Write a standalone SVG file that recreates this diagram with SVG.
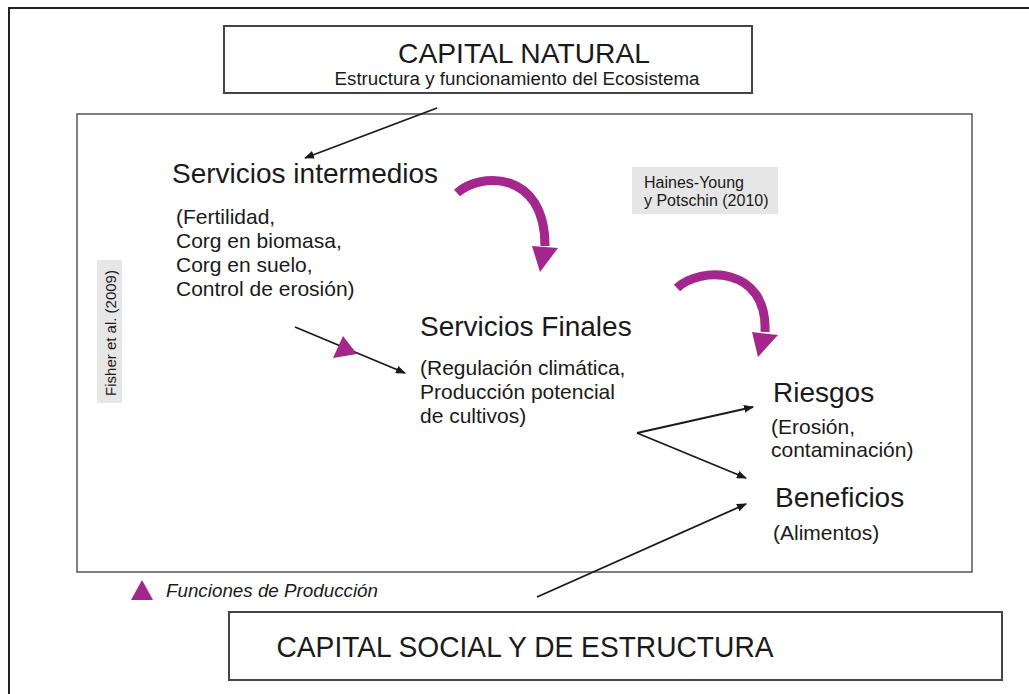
<svg xmlns="http://www.w3.org/2000/svg" width="1029" height="694" viewBox="0 0 1029 694">
<style>
.t{font-family:"Liberation Sans",Arial,sans-serif;fill:#1a1a1a}
.frame{fill:none;stroke:#555;stroke-width:1.5}
.box{fill:#fff;stroke:#444;stroke-width:2}
.ln{stroke:#1a1a1a;stroke-width:1.8;fill:none;marker-end:url(#ah)}
.mg{fill:#a3278c}
.mgs{stroke:#a3278c;stroke-width:9;fill:none}
.ref{fill:#e6e6e6}
.h{font-size:28px}
.b{font-size:21px}
</style>
<defs>
<marker id="ah" markerWidth="10" markerHeight="8" refX="9" refY="4" orient="auto" markerUnits="userSpaceOnUse">
<path d="M0,0 L10,4 L0,8 Z" fill="#1a1a1a"/>
</marker>
</defs>
<rect width="1029" height="694" fill="#fff"/>
<path d="M9,694 V8 H1029" fill="none" stroke="#222" stroke-width="2"/>
<rect x="77" y="114" width="895" height="458" class="frame"/>
<g id="capital-natural">
<rect x="224" y="26" width="528" height="67" class="box"/>
<text x="524" y="63" class="t" font-size="28" text-anchor="middle" textLength="252" lengthAdjust="spacingAndGlyphs">CAPITAL NATURAL</text>
<text x="517" y="85" class="t" font-size="18" text-anchor="middle" textLength="365" lengthAdjust="spacingAndGlyphs">Estructura y funcionamiento del Ecosistema</text>
</g>
<g id="servicios-intermedios">
<text x="172" y="183" class="t h">Servicios intermedios</text>
<text class="t b"><tspan x="176" y="224">(Fertilidad,</tspan><tspan x="176" y="248">Corg en biomasa,</tspan><tspan x="176" y="272">Corg en suelo,</tspan><tspan x="176" y="296">Control de erosión)</tspan></text>
</g>
<g id="fisher">
<rect x="97" y="260" width="25" height="143" class="ref"/>
<text transform="translate(116,333) rotate(-90)" class="t" font-size="15" text-anchor="middle">Fisher et al. (2009)</text>
</g>
<g id="haines">
<rect x="632" y="167" width="146" height="47" class="ref"/>
<text class="t" font-size="16"><tspan x="644" y="188">Haines-Young</tspan><tspan x="644" y="206">y Potschin (2010)</tspan></text>
</g>
<g id="servicios-finales">
<text x="420" y="336" class="t h">Servicios Finales</text>
<text class="t b"><tspan x="420" y="375">(Regulación climática,</tspan><tspan x="420" y="399">Producción potencial</tspan><tspan x="420" y="423">de cultivos)</tspan></text>
</g>
<g id="riesgos">
<text x="773" y="402" class="t h">Riesgos</text>
<text class="t b"><tspan x="771" y="434">(Erosión,</tspan><tspan x="771" y="457">contaminación)</tspan></text>
</g>
<g id="beneficios">
<text x="775" y="507" class="t h">Beneficios</text>
<text x="773" y="540" class="t b">(Alimentos)</text>
</g>
<g id="capital-social">
<rect x="229" y="612" width="773" height="68" class="box"/>
<text x="525" y="657" class="t" font-size="29" text-anchor="middle" textLength="497" lengthAdjust="spacingAndGlyphs">CAPITAL SOCIAL Y DE ESTRUCTURA</text>
</g>
<g id="legend">
<polygon points="131,600 142,580 153,600" class="mg"/>
<text x="166" y="597" class="t" font-size="18" font-style="italic" textLength="212" lengthAdjust="spacingAndGlyphs">Funciones de Producción</text>
</g>
<g id="connectors">
<line x1="437" y1="108" x2="305" y2="158" class="ln"/>
<line x1="295" y1="327" x2="405" y2="373" class="ln"/>
<polygon points="333,358 343,336 357,354" class="mg"/>
<line x1="637" y1="433" x2="753" y2="407" class="ln"/>
<line x1="637" y1="433" x2="746" y2="478" class="ln"/>
<line x1="537" y1="597" x2="746" y2="504" class="ln"/>
<path d="M457,193 C480,172 545,170 545,246" class="mgs"/>
<polygon points="532,246 558,248 540,272" class="mg"/>
<path d="M677,288 C700,266 768,266 765,332" class="mgs"/>
<polygon points="752,332 778,335 758,357" class="mg"/>
</g>
</svg>
